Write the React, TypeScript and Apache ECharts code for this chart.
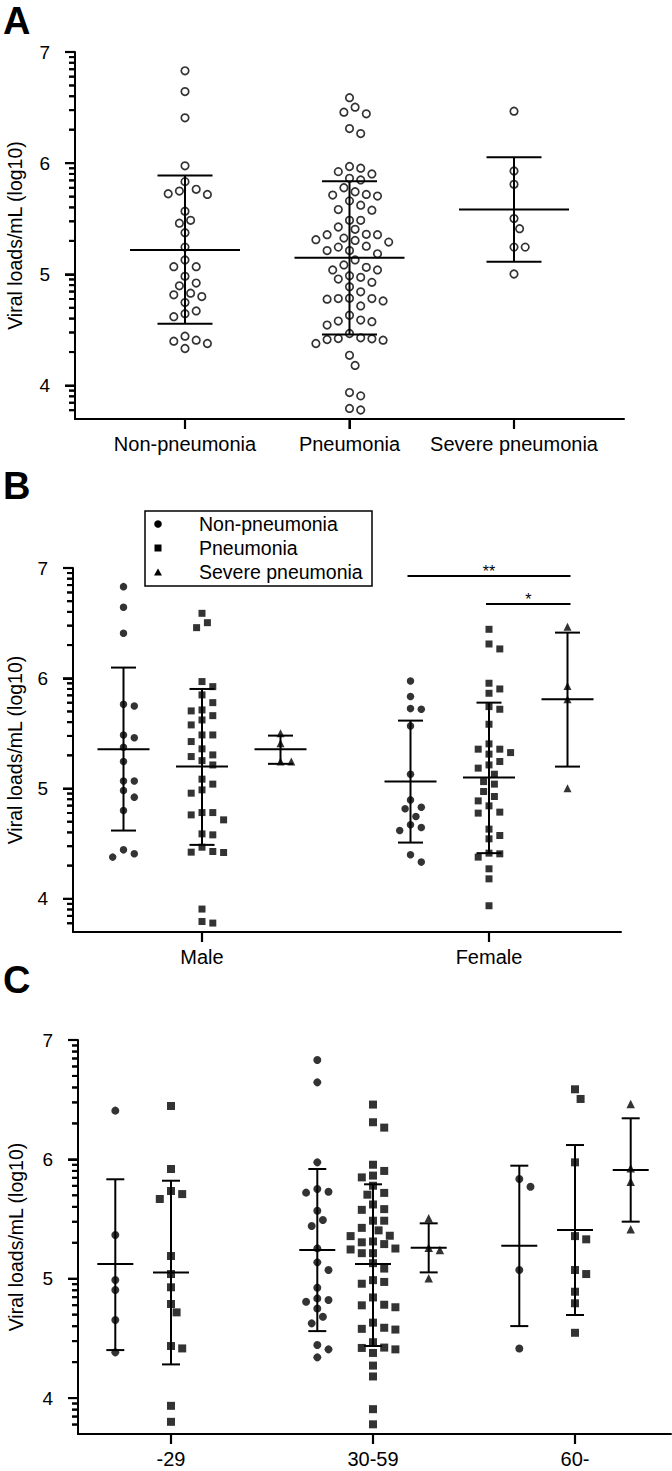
import React, { useEffect, useRef } from "react";
import * as echarts from "echarts";

const FONT = "'Liberation Sans', Arial, Helvetica, sans-serif";

// ---------- axis / text content ----------
const yAxisTitle = "Viral loads/mL (log10)";
const yMajorTicks = [4, 5, 6, 7];
const yMinorTickLoads = [
  6e3, 7e3, 8e3, 9e3,
  2e4, 3e4, 4e4, 5e4, 6e4, 7e4, 8e4, 9e4,
  2e5, 3e5, 4e5, 5e5, 6e5, 7e5, 8e5, 9e5,
  2e6, 3e6, 4e6, 5e6, 6e6, 7e6, 8e6, 9e6,
];
const yMinLoad = 5e3;
const yMaxLog = 7;

const groupNames = ["Non-pneumonia", "Pneumonia", "Severe pneumonia"];
const sexNames = ["Male", "Female"];
const ageNames = ["-29", "30-59", "60-"];
const panelLetters = ["A", "B", "C"];
const sigLabels = ["**", "*"];
const sigLevels = [6.927, 6.674];

// ---------- panel B data (log10 viral loads) ----------
const maleNon = [6.831, 6.644, 6.408, 5.765, 5.749, 5.486, 5.46, 5.375, 5.245, 5.069, 5.069, 4.982, 4.922, 4.8, 4.444, 4.378, 4.408];
const malePneu = [6.589, 6.459, 6.504, 5.97, 5.924, 5.849, 5.779, 5.704, 5.661, 5.713, 5.622, 5.577, 5.486, 5.486, 5.426, 5.305, 5.36, 5.253, 5.29, 5.214, 5.085, 5.04, 4.988, 4.958, 4.782, 4.761, 4.782, 4.716, 4.589, 4.58, 4.429, 4.42, 4.423, 4.468, 3.907, 3.78, 3.794];
const maleSevere = [5.502, 5.411, 5.245, 5.245];
const femaleNon = [5.976, 5.834, 5.719, 5.725, 5.568, 5.13, 4.897, 4.831, 4.816, 4.746, 4.646, 4.671, 4.619, 4.399, 4.333];
const femalePneu = [6.444, 6.311, 6.266, 5.955, 5.864, 5.903, 5.743, 5.719, 5.583, 5.357, 5.326, 5.357, 5.405, 5.312, 5.185, 5.245, 5.214, 5.13, 5.04, 5.063, 4.928, 4.973, 4.843, 4.888, 4.777, 4.786, 4.632, 4.574, 4.544, 4.414, 4.378, 4.408, 4.272, 4.181, 3.937];
const femaleSevere = [6.468, 5.93, 5.81, 5.003];

// ---------- panel C data ----------
const age29Non = [6.408, 5.366, 4.989, 4.905, 4.654, 4.383];
const age29Pneu = [6.447, 5.919, 5.735, 5.709, 5.668, 5.19, 5.039, 4.928, 4.788, 4.718, 4.436, 4.416, 3.935, 3.801];
const age30Non = [6.832, 6.645, 5.975, 5.751, 5.729, 5.721, 5.57, 5.492, 5.441, 5.254, 5.137, 5.073, 4.925, 4.835, 4.821, 4.807, 4.751, 4.681, 4.626, 4.444, 4.408, 4.341];
const age30Pneu = [6.459, 6.311, 6.266, 5.955, 5.903, 5.864, 5.849, 5.779, 5.719, 5.704, 5.622, 5.583, 5.577, 5.486, 5.486, 5.426, 5.405, 5.36, 5.357, 5.312, 5.305, 5.29, 5.253, 5.245, 5.214, 5.214, 5.13, 5.085, 4.988, 4.973, 4.958, 4.843, 4.782, 4.777, 4.761, 4.632, 4.589, 4.58, 4.574, 4.468, 4.423, 4.42, 4.408, 4.378, 4.272, 4.181, 3.907, 3.78];
const age30Severe = [5.506, 5.26, 5.24, 5.003];
const age60Non = [5.835, 5.771, 5.073, 4.416];
const age60Pneu = [6.587, 6.506, 5.975, 5.357, 5.33, 5.073, 5.039, 4.891, 4.794, 4.547];
const age60Severe = [6.464, 5.925, 5.813, 5.414];

// ---------- mean and mean +/- SD lines ----------
const meanA = [5.22, 5.149, 5.583];
const upperA = [5.889, 5.837, 6.053];
const lowerA = [4.556, 4.46, 5.113];
const meanB = [5.357, 5.199, 5.357, 5.063, 5.1, 5.81];
const upperB = [6.097, 5.903, 5.48, 5.616, 5.779, 6.414];
const lowerB = [4.619, 4.489, 5.224, 4.51, 4.414, 5.199];
const meanC = [5.123, 5.053, 5.24, 5.123, 5.26, 5.276, 5.408, 5.911];
const upperC = [5.833, 5.821, 5.919, 5.791, 5.464, 5.947, 6.12, 6.344];
const lowerC = [4.402, 4.282, 4.561, 4.436, 5.053, 4.603, 4.696, 5.478];

function swarm(values: number[], pxPerY: number, step: number, minDist: number): number[] {
  const order = values.map((_, i) => i).sort((a, b) => values[b] - values[a]);
  const placed: [number, number][] = [];
  const out: number[] = new Array(values.length).fill(0);
  for (const i of order) {
    const y = values[i] * pxPerY;
    for (let k = 0; k < 80; k++) {
      const off = (k % 2 === 1 ? 1 : -1) * Math.ceil(k / 2) * step;
      let ok = true;
      for (const [px, py] of placed) {
        if ((px - off) ** 2 + (py - y) ** 2 < minDist * minDist) { ok = false; break; }
      }
      if (ok) { out[i] = off; placed.push([off, y]); break; }
    }
  }
  return out;
}

export default function App() {
  const ref = useRef<HTMLDivElement>(null);
  useEffect(() => {
    document.body.style.margin = "0";
    const chart = echarts.init(ref.current!, null, { renderer: "svg" });
    const yMin = Math.log10(yMinLoad);
    const minor = yMinorTickLoads.map((v) => Math.log10(v));

    const GB = 287 / 78.5;
    const GC = 202 / 55.7;
    const bLists = [maleNon, malePneu, maleSevere, femaleNon, femalePneu, femaleSevere];
    const cLists = [age29Non, age29Pneu, age30Non, age30Pneu, age30Severe, age60Non, age60Pneu, age60Severe];
    const cGroup = [0, 1, 0, 1, 2, 0, 1, 2];
    const cAge = [0, 0, 1, 1, 1, 2, 2, 2];

    const panels: any[] = [
      {
        grid: { left: 75, top: 52, width: 549, height: 367 },
        unitPx: 164.5, firstPx: 110, labels: groupNames, labelPos: [0, 1, 2],
        meanHalf: 55, capHalf: 27.5, nameGap: 50, step: 5.6, minDist: 10.5, open: true,
        symbols: ["circle", "circle", "circle"], sizes: [7.5, 7.5, 7.5],
        columns: [
          { values: [...maleNon, ...femaleNon], x: 0, g: 0, mean: meanA[0], upper: upperA[0], lower: lowerA[0] },
          { values: [...malePneu, ...femalePneu], x: 1, g: 1, mean: meanA[1], upper: upperA[1], lower: lowerA[1] },
          { values: [...maleSevere, ...femaleSevere], x: 2, g: 2, mean: meanA[2], upper: upperA[2], lower: lowerA[2] },
        ],
      },
      {
        grid: { left: 73, top: 568, width: 548, height: 364 },
        unitPx: 78.5, firstPx: 129, labels: sexNames, labelPos: [0, GB],
        meanHalf: 26, capHalf: 12.5, nameGap: 48, step: 5.4, minDist: 9.5, open: false,
        symbols: ["circle", "rect", "triangle"], sizes: [7.5, 7, 8],
        columns: bLists.map((vals, i) => ({
          values: vals, x: (i < 3 ? 0 : GB) + ((i % 3) - 1), g: i % 3,
          mean: meanB[i], upper: upperB[i], lower: lowerB[i],
        })),
      },
      {
        grid: { left: 78, top: 1040, width: 593, height: 394 },
        unitPx: 55.7, firstPx: 93, labels: ageNames, labelPos: [0, GC, 2 * GC],
        meanHalf: 18, capHalf: 9, nameGap: 52, step: 5.6, minDist: 10, open: false,
        symbols: ["circle", "rect", "triangle"], sizes: [8, 8, 8.5],
        columns: cLists.map((vals, i) => ({
          values: vals, x: cAge[i] * GC + (cGroup[i] - 1), g: cGroup[i],
          mean: meanC[i], upper: upperC[i], lower: lowerC[i],
        })),
      },
    ];

    const xAxis: any[] = [];
    const yAxis: any[] = [];
    const series: any[] = [];
    const lineStyle = { color: "#000", width: 2 };
    const tickRects: any[] = [];

    panels.forEach((p, pi) => {
      const pxPerY = p.grid.height / (yMaxLog - yMin);
      p.xMin = -p.firstPx / p.unitPx;
      const yPix = (v: number) => p.grid.top + (yMaxLog - v) * pxPerY;
      const xPix = (v: number) => p.grid.left + (v - p.xMin) * p.unitPx;
      const bottom = p.grid.top + p.grid.height;

      // tick marks as graphic rectangles (fallback for the axis ticks)
      minor.forEach((v) => tickRects.push({
        type: "rect", z: 20,
        shape: { x: p.grid.left - 6, y: yPix(v) - 1, width: 6, height: 2 },
        style: { fill: "#000" },
      }));
      yMajorTicks.forEach((v) => tickRects.push({
        type: "rect", z: 20,
        shape: { x: p.grid.left - 10, y: yPix(v) - 1.1, width: 10, height: 2.2 },
        style: { fill: "#000" },
      }));
      p.labelPos.forEach((v: number) => tickRects.push({
        type: "rect", z: 20,
        shape: { x: xPix(v) - 1.1, y: bottom, width: 2.2, height: 10 },
        style: { fill: "#000" },
      }));

      xAxis.push({
        gridIndex: pi, type: "value",
        min: p.xMin, max: (p.grid.width - p.firstPx) / p.unitPx,
        axisLine: { show: true, onZero: false, lineStyle },
        axisTick: { show: true, customValues: p.labelPos, length: 10, lineStyle },
        axisLabel: {
          customValues: p.labelPos, color: "#000", fontSize: 20, fontFamily: FONT, margin: 15,
          formatter: (v: number) => {
            let best = 0;
            p.labelPos.forEach((q: number, i: number) => {
              if (Math.abs(q - v) < Math.abs(p.labelPos[best] - v)) best = i;
            });
            return p.labels[best];
          },
        },
        splitLine: { show: false },
      });
      yAxis.push({
        gridIndex: pi, type: "value", min: yMin, max: yMaxLog, position: "left",
        axisLine: { show: true, onZero: false, lineStyle },
        axisTick: { show: true, customValues: yMajorTicks, length: 10, lineStyle },
        axisLabel: { customValues: yMajorTicks, color: "#000", fontSize: 19, fontFamily: FONT, margin: 25 },
        splitLine: { show: false },
        name: yAxisTitle, nameLocation: "middle", nameGap: p.nameGap,
        nameTextStyle: { color: "#000", fontSize: 19.5, fontFamily: FONT },
      });

      // log-spaced minor ticks placed through the axis scale
      series.push({
        type: "custom", xAxisIndex: pi, yAxisIndex: pi, z: 10, clip: false, silent: true,
        encode: { x: 0, y: 1 },
        data: minor.map((v) => [p.xMin, v]),
        renderItem: (params: any, api: any) => {
          const pt = api.coord([api.value(0), api.value(1)]);
          return { type: "rect", shape: { x: pt[0] - 6, y: pt[1] - 1, width: 6, height: 2 }, style: { fill: "#000" } };
        },
      });

      p.columns.forEach((c: any) => {
        const offs = swarm(c.values, pxPerY, p.step, p.minDist);
        series.push({
          type: "scatter", name: groupNames[c.g], xAxisIndex: pi, yAxisIndex: pi, z: 2,
          symbol: p.symbols[c.g], symbolSize: p.sizes[c.g],
          itemStyle: p.open
            ? { color: "rgba(0,0,0,0)", borderColor: "#000", borderWidth: 1.7 }
            : { color: "#000" },
          data: c.values.map((v: number, i: number) => [c.x + offs[i] / p.unitPx, v]),
        });
      });

      series.push({
        type: "custom", xAxisIndex: pi, yAxisIndex: pi, z: 3,
        encode: { x: 0, y: [1, 2, 3] },
        data: p.columns.map((c: any) => [c.x, c.mean, c.upper, c.lower]),
        renderItem: (params: any, api: any) => {
          const x = api.value(0);
          const m = api.coord([x, api.value(1)]);
          const u = api.coord([x, api.value(2)]);
          const l = api.coord([x, api.value(3)]);
          const st = { stroke: "#000", lineWidth: 2, fill: "none" };
          const h = (pt: number[], w: number) => ({
            type: "line", shape: { x1: pt[0] - w, y1: pt[1], x2: pt[0] + w, y2: pt[1] }, style: st,
          });
          return {
            type: "group",
            children: [
              { type: "line", shape: { x1: u[0], y1: u[1], x2: l[0], y2: l[1] }, style: st },
              h(m, p.meanHalf), h(u, p.capHalf), h(l, p.capHalf),
            ],
          };
        },
      });
    });

    // significance bars in panel B (female groups)
    series.push({
      type: "custom", xAxisIndex: 1, yAxisIndex: 1, z: 3,
      encode: { x: [0, 1], y: 2 },
      data: [
        [GB - 1, GB + 1, sigLevels[0]],
        [GB, GB + 1, sigLevels[1]],
      ],
      renderItem: (params: any, api: any) => {
        const a = api.coord([api.value(0), api.value(2)]);
        const b = api.coord([api.value(1), api.value(2)]);
        const x1 = a[0] - 3;
        const x2 = b[0] + 3;
        return {
          type: "group",
          children: [
            { type: "line", shape: { x1, y1: a[1], x2, y2: a[1] }, style: { stroke: "#000", lineWidth: 2 } },
            {
              type: "text", x: (x1 + x2) / 2, y: a[1] - 4.5,
              style: { text: sigLabels[params.dataIndex], fontSize: 16, fontFamily: FONT, fill: "#000", align: "center", verticalAlign: "middle" },
            },
          ],
        };
      },
    });

    const letterY = [21, 486, 980];
    const graphic: any[] = panelLetters.map((t, i) => ({
      type: "text", x: 3, y: letterY[i],
      style: { text: t, fontSize: 38, fontWeight: "bold", fontFamily: FONT, fill: "#000", verticalAlign: "middle" },
    }));
    graphic.push(
      { type: "rect", shape: { x: 145, y: 511, width: 227, height: 75 }, style: { fill: "#fff", stroke: "#000", lineWidth: 1.5 }, z: 10 },
      { type: "circle", shape: { cx: 158, cy: 524, r: 3.8 }, style: { fill: "#000" }, z: 11 },
      { type: "rect", shape: { x: 154.5, y: 544.5, width: 7, height: 7 }, style: { fill: "#000" }, z: 11 },
      { type: "polygon", shape: { points: [[158, 568.5], [162, 575.5], [154, 575.5]] }, style: { fill: "#000" }, z: 11 },
    );
    groupNames.forEach((t, i) => {
      graphic.push({
        type: "text", x: 199, y: 524 + 24 * i, z: 11,
        style: { text: t, fontSize: 19.5, fontFamily: FONT, fill: "#000", verticalAlign: "middle" },
      });
    });

    chart.setOption({
      animation: false,
      backgroundColor: "#fff",
      grid: panels.map((p) => ({ ...p.grid, containLabel: false, outerBoundsMode: "none" })),
      xAxis, yAxis, series,
      graphic: [...graphic, ...tickRects],
    });

    return () => chart.dispose();
  }, []);
  return (
    <div
      ref={ref}
      style={{ position: "absolute", left: 0, top: 0, width: 672, height: 1471, background: "#fff" }}
    />
  );
}
